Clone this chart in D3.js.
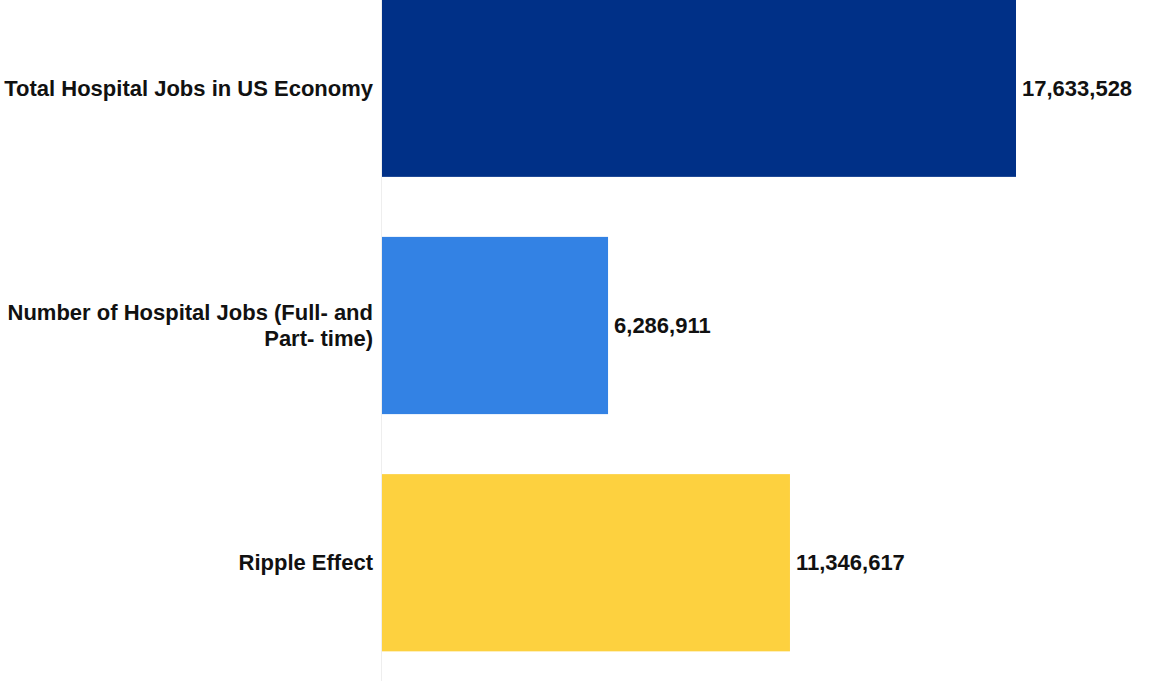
<!DOCTYPE html>
<html><head><meta charset="utf-8">
<script src="https://cdn.jsdelivr.net/npm/d3@7"></script>
<style>body{margin:0;background:#fff}svg{display:block}</style>
</head><body>
<svg id="c" width="1166" height="681"></svg>
<script>
const categories = ["Total Hospital Jobs in US Economy", "Number of Hospital Jobs (Full- and Part- time)", "Ripple Effect"];
const labelLines = [["Total Hospital Jobs in US Economy"], ["Number of Hospital Jobs (Full- and", "Part- time)"], ["Ripple Effect"]];
const values = [17633528, 6286911, 11346617];
const colors = ["#003087", "#3382e4", "#fdd13f"];

const svg = d3.select("#c");
const x0 = 382;
const x = d3.scaleLinear().domain([0, 17633528]).range([x0, 1016]);
const y = d3.scaleBand().domain(categories).range([-30, 681]).paddingInner(0.253).paddingOuter(0.125);

svg.append("line").attr("x1", x0 - 0.5).attr("x2", x0 - 0.5).attr("y1", 0).attr("y2", 681)
  .attr("stroke", "#eeeeee").attr("stroke-width", 1);

svg.selectAll("rect.bar").data(categories).join("rect")
  .attr("x", x0).attr("y", d => y(d))
  .attr("width", (d, i) => x(values[i]) - x0)
  .attr("height", y.bandwidth())
  .attr("fill", (d, i) => colors[i]);

const fmt = d3.format(",");
const font = "'Liberation Sans', Arial, sans-serif";
svg.selectAll("text.val").data(categories).join("text")
  .attr("x", (d, i) => x(values[i]) + 6)
  .attr("y", d => y(d) + y.bandwidth() / 2)
  .attr("dy", "0.35em")
  .attr("font-family", font)
  .attr("font-weight", "bold").attr("font-size", 22).attr("fill", "#111")
  .text((d, i) => fmt(values[i]));

const lg = svg.selectAll("text.lab").data(categories).join("text")
  .attr("text-anchor", "end")
  .attr("font-family", font)
  .attr("font-weight", "bold").attr("font-size", 22).attr("fill", "#111");
lg.each(function(d, i) {
  const lines = labelLines[i];
  const cy = y(d) + y.bandwidth() / 2;
  const lh = 26;
  const t = d3.select(this);
  lines.forEach((ln, j) => {
    t.append("tspan").attr("x", x0 - 9)
      .attr("y", cy + (j - (lines.length - 1) / 2) * lh)
      .attr("dy", "0.35em").text(ln);
  });
});
</script>
</body></html>
